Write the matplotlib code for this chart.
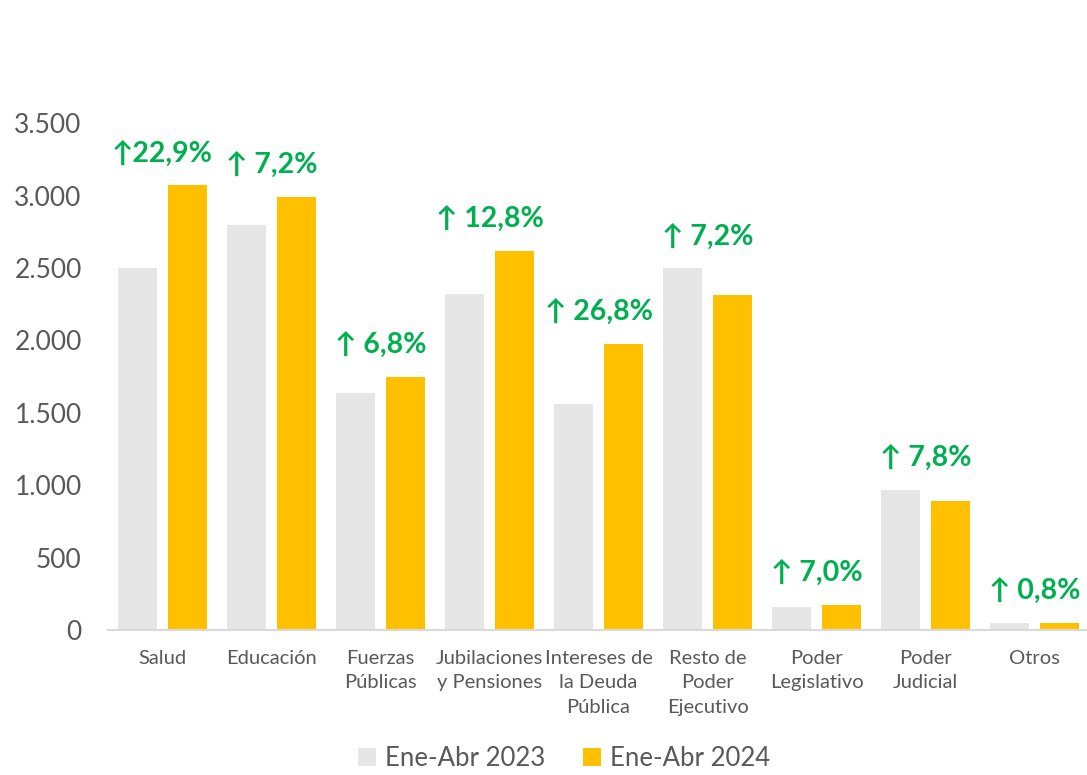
import matplotlib.pyplot as plt
import numpy as np

categories = ['Salud', 'Educación', 'Fuerzas\nPúblicas', 'Jubilaciones\ny Pensiones',
              'Intereses de\nla Deuda\nPública', 'Resto de\nPoder\nEjecutivo',
              'Poder\nLegislativo', 'Poder\nJudicial', 'Otros']
vals_2023 = [2500, 2794, 1639, 2324, 1563, 2497, 159, 968, 48]
vals_2024 = [3070, 2994, 1750, 2621, 1978, 2317, 173, 892, 48]
changes = ['↑22,9%', '↑ 7,2%', '↑ 6,8%', '↑ 12,8%', '↑ 26,8%', '↑ 7,2%',
           '↑ 7,0%', '↑ 7,8%', '↑ 0,8%']
yticks = [0, 500, 1000, 1500, 2000, 2500, 3000, 3500]
series_labels = ['Ene-Abr 2023', 'Ene-Abr 2024']

plt.rcParams['font.family'] = ['Lato', 'DejaVu Sans']

fig = plt.figure(figsize=(10.87, 7.75), dpi=100)
ax = fig.add_axes([0.0994, 0.187, 0.9025, 0.654])

x = np.arange(len(categories))
w = 0.358
off = 0.229
gray = '#E6E6E6'
yellow = '#FFC000'
ax.bar(x - off, vals_2023, w, color=gray, label=series_labels[0])
ax.bar(x + off, vals_2024, w, color=yellow, label=series_labels[1])

# growth labels above each pair
for i, txt in enumerate(changes):
    top = max(vals_2023[i], vals_2024[i])
    ax.text(x[i], top + 215, txt, ha='center', va='center', color='#00B050',
            fontsize=20.5, fontweight='bold')

ax.set_xlim(-0.5, len(categories) - 0.5)
ax.set_ylim(0, 3500)
ax.set_yticks(yticks)
ax.set_yticklabels([f'{v:,}'.replace(',', '.') for v in yticks])
ax.set_xticks(x)
ax.set_xticklabels(categories, linespacing=1.57)

ax.tick_params(axis='y', length=0, pad=19, labelsize=19, labelcolor='#595959')
ax.tick_params(axis='x', length=0, pad=14, labelsize=14.5, labelcolor='#595959')
for s in ['top', 'right', 'left']:
    ax.spines[s].set_visible(False)
ax.spines['bottom'].set_color('#D9D9D9')
ax.spines['bottom'].set_linewidth(1.5)

leg = fig.legend(loc='center', bbox_to_anchor=(0.519, 0.021), ncol=2, frameon=False,
                 fontsize=18.5, handlelength=0.7, handleheight=0.7,
                 handletextpad=0.35, columnspacing=1.5)
for t in leg.get_texts():
    t.set_color('#595959')

fig.savefig('out.png', dpi=100)
